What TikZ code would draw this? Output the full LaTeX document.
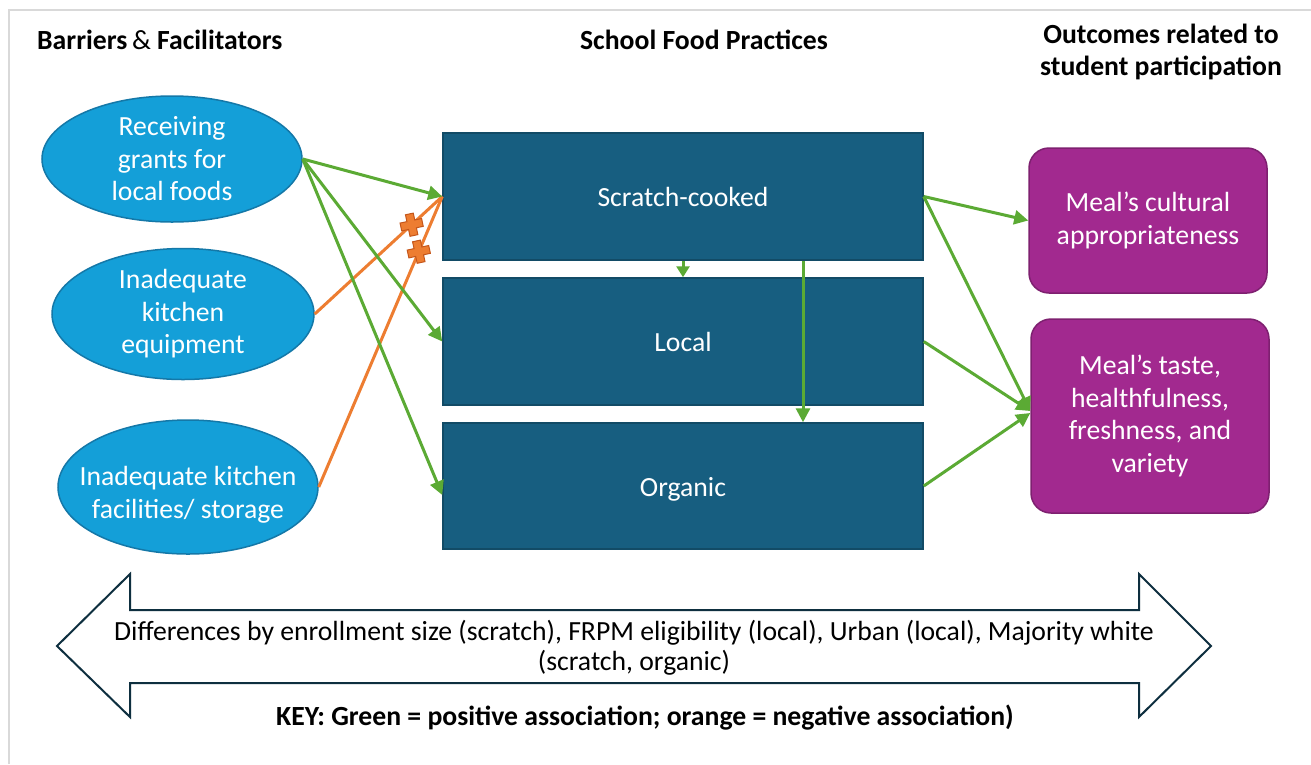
\documentclass[tikz,border=0pt]{standalone}
\usepackage{fontspec}
\setmainfont{Carlito}
\usetikzlibrary{arrows.meta,calc,shapes.geometric}

\definecolor{ellfill}{HTML}{149FD8}
\definecolor{elledge}{HTML}{1478A8}
\definecolor{boxfill}{HTML}{175E80}
\definecolor{boxedge}{HTML}{124B66}
\definecolor{outfill}{HTML}{A2298F}
\definecolor{outedge}{HTML}{7E2070}
\definecolor{posgreen}{HTML}{5BAA34}
\definecolor{negorange}{HTML}{ED7D31}
\definecolor{negedge}{HTML}{C5561A}
\definecolor{arrowline}{HTML}{0E2F3F}
\definecolor{framegray}{HTML}{D9D9D9}

\newcommand{\bodyfont}{\fontsize{27.7}{32.5}\selectfont}
\newcommand{\notefont}{\fontsize{27.7}{30}\selectfont}

\tikzset{
  factor/.style={ellipse, draw=elledge, line width=1.5pt, fill=ellfill,
    text=white, align=center, font=\bodyfont, inner sep=0pt},
  factortext/.style={text=white, align=center, font=\bodyfont, inner sep=0pt},
  practice/.style={rectangle, draw=boxedge, line width=1.5pt, fill=boxfill,
    text=white, align=center, font=\bodyfont, inner sep=0pt,
    minimum width=480pt, text height=23pt, text depth=3pt},
  outcome/.style={rectangle, rounded corners=20pt, draw=outedge, line width=1.5pt,
    fill=outfill, text=white, align=center, font=\bodyfont, inner sep=0pt,
    minimum width=238pt},
  header/.style={font=\bodyfont\bfseries, align=center, inner sep=0pt},
  posarrow/.style={draw=posgreen, line width=3pt, -{Triangle[length=14pt,width=14pt]}},
  neglink/.style={draw=negorange, line width=3pt},
  negmark/.pic={
    \filldraw[fill=negorange, draw=negedge, line width=1pt, rotate=12]
      (-4,-11) -- (4,-11) -- (4,-4) -- (11,-4) -- (11,4) -- (4,4) -- (4,11)
      -- (-4,11) -- (-4,4) -- (-11,4) -- (-11,-4) -- (-4,-4) -- cycle;
  }
}

\begin{document}
\begin{tikzpicture}[x=1pt, y=-1pt]
  \useasboundingbox (0,0) rectangle (1311,764);
  \fill[white] (0,0) rectangle (1311,764);

  % frame edges
  \draw[framegray, line width=2pt] (9,764) -- (9,10) -- (1311,10);

  % column headings
  \node[header, anchor=west] (h1) at (37,40) {Barriers\,\mdseries\&\bfseries{} Facilitators};
  \node[header] (h2) at (704,40) {School Food Practices};
  \node[header] (h3) at (1161,52) {Outcomes related to\\student participation};

  % barriers and facilitators
  \node[factor, minimum width=260pt, minimum height=126pt] (g) at (172,159)
    {Receiving\\grants for\\local foods};
  \node[factor, minimum width=262pt, minimum height=131pt] (eq) at (183,314)
    {Inadequate\\kitchen\\equipment};
  \node[factor, minimum width=260pt, minimum height=134pt,
    label={[factortext, yshift=-8pt]center:{Inadequate kitchen\\facilities/ storage}}]
    (fa) at (188,487) {};

  % school food practices
  \node[practice, minimum height=127pt] (sc) at (683,196.5) {Scratch-cooked};
  \node[practice, minimum height=127pt] (lo) at (683,341.5) {Local};
  \node[practice, minimum height=126pt] (or) at (683,486) {Organic};

  % outcomes
  \node[outcome, minimum height=145pt] (m1) at (1148,220.5)
    {Meal’s cultural\\appropriateness};
  \node[outcome, minimum height=194pt] (m2) at (1150,416)
    {Meal’s taste,\\healthfulness,\\freshness, and\\variety};

  % negative associations
  \draw[neglink] (eq.east) -- (sc.west) coordinate[pos=0.76] (x1);
  \draw[neglink] (fa.east) -- (sc.west) coordinate[pos=0.81] (x2);
  \pic at (x1) {negmark};
  \pic at (x2) {negmark};

  % positive associations
  \draw[posarrow] (g.east) -- (sc.west);
  \draw[posarrow] (g.east) -- (lo.west);
  \draw[posarrow] (g.east) -- ($(or.west)+(0,9)$);
  \draw[posarrow, -{Triangle[length=11pt,width=13pt]}] (sc.south) -- (lo.north);
  \draw[posarrow] ($(sc.south)+(120,0)$) -- ($(or.north)+(120,0)$);
  \draw[posarrow] (sc.east) -- (m1.west);
  \draw[posarrow] (sc.east) -- ($(m2.west)+(0,-5)$);
  \draw[posarrow] (lo.east) -- ($(m2.west)+(0,-5)$);
  \draw[posarrow] (or.east) -- ($(m2.west)+(0,-3)$);

  % double-headed arrow for group differences
  \draw[arrowline, line width=2pt, fill=white, line join=miter]
    (57,646) -- (130,574) -- (130,610) -- (1139,610) -- (1139,574)
    -- (1211,646) -- (1139,717) -- (1139,683) -- (130,683) -- (130,717) -- cycle;
  \node[font=\notefont, align=center, inner sep=0pt] (diff) at (634,648)
    {Differences by enrollment size (scratch), FRPM eligibility (local), Urban (local), Majority white\\(scratch, organic)};

  % key
  \node[header] (key) at (645,718)
    {KEY: Green = positive association; orange = negative association)};
\end{tikzpicture}
\end{document}
